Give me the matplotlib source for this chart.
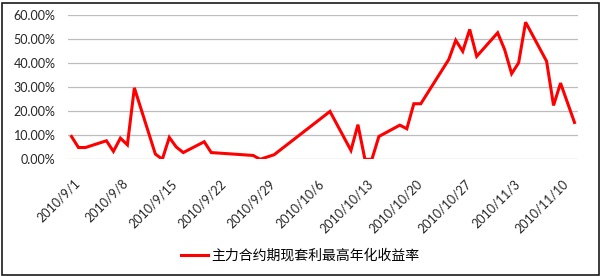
import matplotlib
matplotlib.use("Agg")
import matplotlib.pyplot as plt
import matplotlib.dates as mdates
import matplotlib.transforms as mtransforms
from matplotlib.patches import Rectangle
import numpy as np
import datetime as dt

# data (trading days, max annualised return in %)
dates = ["2010-09-01", "2010-09-02", "2010-09-03", "2010-09-06", "2010-09-07",
         "2010-09-08", "2010-09-09", "2010-09-10", "2010-09-13", "2010-09-14",
         "2010-09-15", "2010-09-16", "2010-09-17", "2010-09-20", "2010-09-21",
         "2010-09-27", "2010-09-28", "2010-09-30", "2010-10-08", "2010-10-11",
         "2010-10-12", "2010-10-13", "2010-10-14", "2010-10-15", "2010-10-18",
         "2010-10-19", "2010-10-20", "2010-10-21", "2010-10-25", "2010-10-26",
         "2010-10-27", "2010-10-28", "2010-10-29", "2010-11-01", "2010-11-02",
         "2010-11-03", "2010-11-04", "2010-11-05", "2010-11-08", "2010-11-09",
         "2010-11-10", "2010-11-12"]
returns = [9.5, 4.9, 4.9, 7.7, 3.3,
           8.8, 6.0, 29.7, 2.2, 0.0,
           9.1, 5.1, 2.8, 7.3, 2.8,
           1.6, 0.0, 1.9, 19.9, 3.7,
           14.4, 0.0, 0.0, 9.5, 14.2,
           12.7, 23.1, 23.1, 41.5, 49.5,
           44.9, 54.0, 42.8, 52.6, 45.6,
           35.6, 40.1, 57.0, 40.8, 22.4,
           31.7, 15.3]

tick_dates = ["2010-09-01", "2010-09-08", "2010-09-15", "2010-09-22",
              "2010-09-29", "2010-10-06", "2010-10-13", "2010-10-20",
              "2010-10-27", "2010-11-03", "2010-11-10"]
tick_labels = ["2010/9/1", "2010/9/8", "2010/9/15", "2010/9/22", "2010/9/29",
               "2010/10/6", "2010/10/13", "2010/10/20", "2010/10/27",
               "2010/11/3", "2010/11/10"]
y_ticks = [0, 10, 20, 30, 40, 50, 60]
series_name = "主力合约期现套利最高年化收益率"

x = [dt.datetime.strptime(d, "%Y-%m-%d") for d in dates]
y = np.array(returns) / 100

plt.rcParams['font.family'] = ['Lato', 'DejaVu Sans']

fig = plt.figure(figsize=(6.01, 2.76), dpi=100)
ax = fig.add_axes([68/601, 1 - 159.3/276, 510/601, 144.3/276])

ax.plot(x, y, color="#ff0000", linewidth=2.2, solid_joinstyle="miter",
        label=series_name)

# date axis, half a day of padding each side
ax.set_xlim(mdates.date2num(x[0]) - 0.5, mdates.date2num(x[-1]) + 0.5)
ax.set_ylim(0, 0.6)

ax.set_yticks([v / 100 for v in y_ticks])
ax.set_yticklabels([f"{v:.2f}%" for v in y_ticks])
ax.yaxis.grid(True, color="#bdbdbd", linewidth=0.9)
ax.set_axisbelow(True)

ax.set_xticks([dt.datetime.strptime(d, "%Y-%m-%d") for d in tick_dates])
ax.tick_params(axis="x", length=0, pad=16, labelsize=9, labelcolor="#262626")
ax.tick_params(axis="y", length=0, pad=9, labelsize=9, labelcolor="#262626")
ax.set_xticklabels(tick_labels, rotation=45, ha="right", va="center",
                   rotation_mode="anchor")

# nudge the rotated labels right, like Excel places them
offset = mtransforms.ScaledTranslation(6/100, 0, fig.dpi_scale_trans)
for lab in ax.get_xticklabels():
    lab.set_transform(lab.get_transform() + offset)

for s in ax.spines.values():
    s.set_visible(False)

fig.legend(loc="center", bbox_to_anchor=(0.5, 1 - 256/276), frameon=False,
           handlelength=1.95, handletextpad=0.25,
           prop={"family": ["Noto Sans CJK SC", "DejaVu Sans"], "size": 10})

# chart area border
fig.patches.append(Rectangle((1.5/601, 1.5/276), 597/601, 272/276,
                             transform=fig.transFigure, fill=False,
                             edgecolor="#1a1a1a", linewidth=1.2))

fig.savefig("out.png", dpi=100)
